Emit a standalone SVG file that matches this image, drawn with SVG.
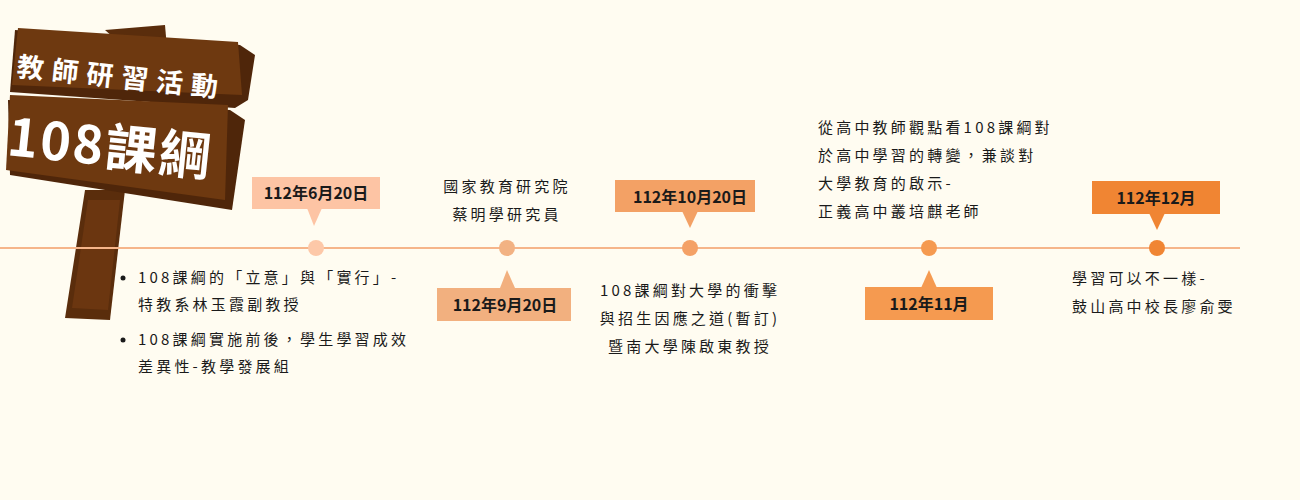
<svg xmlns="http://www.w3.org/2000/svg" width="1300" height="500" viewBox="0 0 1300 500">
<style>
text{font-family:"Noto Sans CJK TC","Noto Sans CJK SC",sans-serif;fill:#1a1a1a}
.t{font-size:15px;letter-spacing:3.2px}
.d{font-size:16px;font-weight:bold}
.s{fill:#fff;font-weight:bold}
</style>
<rect width="1300" height="500" fill="#fffcf1"/>
<g id="sign">
<path d="M105 30 L165 25 L168 60 L150 70 Z" fill="#5a2d0c"/>
<path d="M85 190 L125 190 L110 320 L65 318 Z" fill="#5a2d0c"/>
<path d="M88 200 L120 200 L108 310 L72 308 Z" fill="#6b3610"/>
<path d="M15 30 L240 45 L255 55 L248 100 L235 108 L10 92 Z" fill="#4f260a"/>
<path d="M18 28 L238 42 L242 95 L12 85 Z" fill="#6e3910"/>
<path d="M8 100 L230 110 L245 120 L232 210 L10 175 Z" fill="#4f260a"/>
<path d="M10 95 L228 105 L225 200 L6 170 Z" fill="#6e3910"/>
<text x="16" y="76" class="s" font-size="27" letter-spacing="8" transform="rotate(6 16 76)">教師研習活動</text>
<text x="6" y="155" class="s" font-size="52" letter-spacing="2" transform="rotate(6 6 155)">108課綱</text>
</g>
<g id="connectors">
<line x1="0" y1="248" x2="1240" y2="248" stroke="#f6b58a" stroke-width="2"/>
</g>
<g id="n1">
<rect x="252" y="177" width="128" height="32" fill="#fdc4a4"/>
<path d="M307 208 L322 208 L314 226 Z" fill="#fdc4a4"/>
<text x="316" y="199" class="d" text-anchor="middle">112年6月20日</text>
<circle cx="316" cy="248" r="8" fill="#fdc8a8"/>
<circle cx="123" cy="278" r="2.5" fill="#1a1a1a"/>
<text x="138" y="283" class="t">108課綱的「立意」與「實行」-</text>
<text x="138" y="310" class="t">特教系林玉霞副教授</text>
<circle cx="123" cy="340" r="2.5" fill="#1a1a1a"/>
<text x="138" y="345" class="t">108課綱實施前後，學生學習成效</text>
<text x="138" y="372" class="t">差異性-教學發展組</text>
</g>
<g id="n2">
<text x="507" y="192" class="t" text-anchor="middle">國家教育研究院</text>
<text x="507" y="220" class="t" text-anchor="middle">蔡明學研究員</text>
<circle cx="507" cy="248" r="8" fill="#f2b283"/>
<path d="M500 288 L515 288 L507 270 Z" fill="#f2b07f"/>
<rect x="437" y="288" width="134" height="33" fill="#f2b07f"/>
<text x="505" y="311" class="d" text-anchor="middle">112年9月20日</text>
</g>
<g id="n3">
<rect x="615" y="180" width="140" height="32" fill="#f3a165"/>
<path d="M682 211 L698 211 L690 228 Z" fill="#f3a165"/>
<text x="690" y="203" class="d" text-anchor="middle">112年10月20日</text>
<circle cx="690" cy="248" r="8" fill="#f4a166"/>
<text x="690" y="296" class="t" text-anchor="middle">108課綱對大學的衝擊</text>
<text x="690" y="324" class="t" text-anchor="middle">與招生因應之道(暫訂)</text>
<text x="690" y="352" class="t" text-anchor="middle">暨南大學陳啟東教授</text>
</g>
<g id="n4">
<text x="818" y="133" class="t">從高中教師觀點看108課綱對</text>
<text x="818" y="161" class="t">於高中學習的轉變，兼談對</text>
<text x="818" y="189" class="t">大學教育的啟示-</text>
<text x="818" y="217" class="t">正義高中叢培麒老師</text>
<circle cx="929" cy="248" r="8" fill="#f59a50"/>
<path d="M921 288 L937 288 L929 270 Z" fill="#f59a50"/>
<rect x="865" y="287" width="128" height="33" fill="#f59a50"/>
<text x="929" y="310" class="d" text-anchor="middle">112年11月</text>
</g>
<g id="n5">
<rect x="1092" y="181" width="128" height="33" fill="#f08533"/>
<path d="M1149 213 L1165 213 L1157 230 Z" fill="#f08533"/>
<text x="1156" y="204" class="d" text-anchor="middle">112年12月</text>
<circle cx="1157" cy="248" r="8" fill="#f08533"/>
<text x="1072" y="284" class="t">學習可以不一樣-</text>
<text x="1072" y="312" class="t">鼓山高中校長廖俞雯</text>
</g>
</svg>
